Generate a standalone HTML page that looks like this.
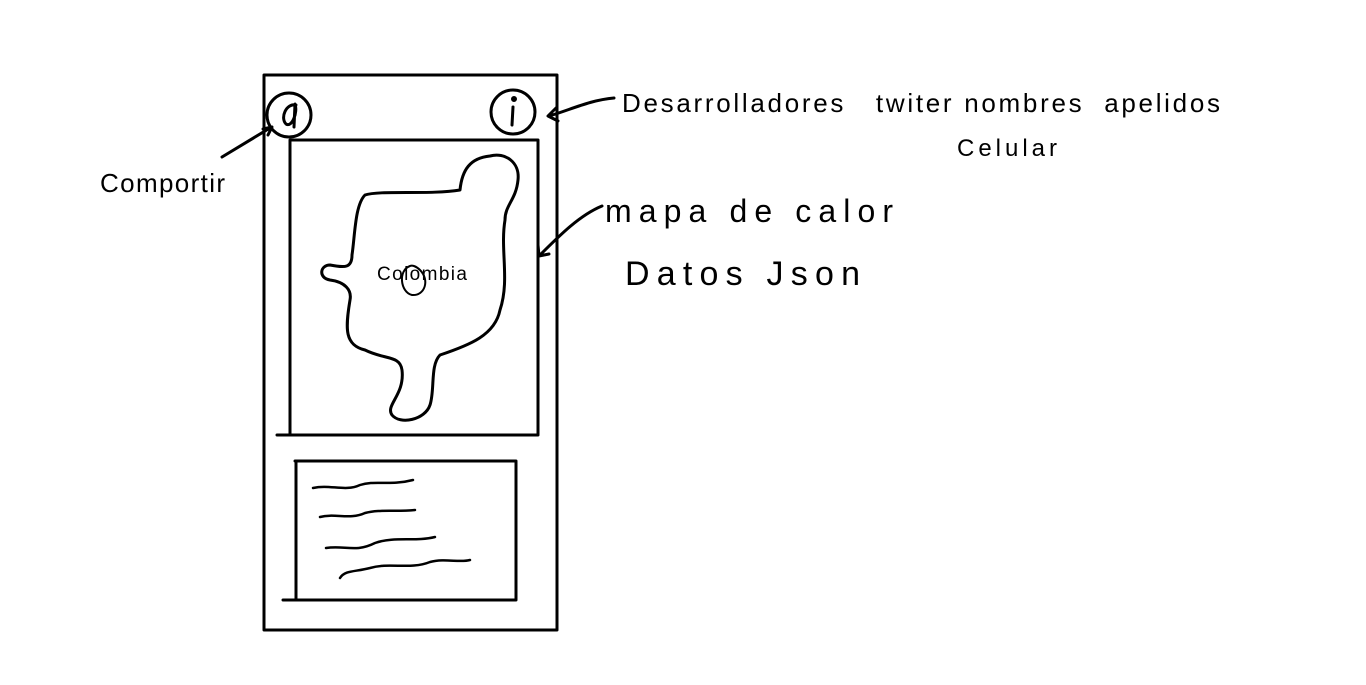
<!DOCTYPE html>
<html><head><meta charset="utf-8"><style>
html,body{margin:0;padding:0;background:#fff;width:1366px;height:685px;overflow:hidden}
svg{display:block}
text{font-family:"Liberation Sans",sans-serif;fill:#000}
</style></head><body>
<svg width="1366" height="685" viewBox="0 0 1366 685" fill="none" stroke="#000" stroke-width="3" stroke-linecap="round" stroke-linejoin="round">
<rect x="264" y="75" width="293" height="555"/>
<g>
<circle cx="289" cy="115" r="22"/>
<path d="M296,105 C286,103 280,118 286,124 C292,128 298,112 295,104 L294,127"/>
</g>
<g>
<circle cx="513" cy="112" r="22"/>
<path d="M513,107 L512,125"/><circle cx="514" cy="99" r="1.5" fill="#000"/>
</g>
<path d="M290,140 L538,140 L538,435 L277,435 M290,140 L290,435"/>
<path d="M365,195 C380,190 430,195 460,190 C462,170 470,158 490,156 C505,152 520,162 518,180 C516,200 505,205 505,220 C500,250 510,280 500,310 C495,335 470,345 440,355 C430,365 435,390 430,405 C425,420 400,425 392,415 C385,405 405,395 402,370 C400,355 385,360 365,350 C345,345 345,330 350,300 C352,290 345,282 330,280 C318,278 320,265 330,265 C345,268 352,268 352,255 C355,235 355,205 365,195 Z"/>
<path d="M410,266 C398,270 400,292 412,295 C425,296 430,280 420,270 C416,266 412,265 410,266 Z" stroke-width="2"/>
<text x="377" y="280" font-size="19" textLength="90" stroke="none">Colombia</text>
<path d="M295,461 L516,461 L516,600 L283,600 M296,462 L296,600"/>
<g stroke-width="2.5">
<path d="M313,488 C330,484 345,492 360,485 C375,480 390,486 413,480"/>
<path d="M320,517 C335,513 350,520 365,513 C380,509 395,512 415,510"/>
<path d="M326,548 C345,545 355,553 375,543 C395,536 415,542 435,537"/>
<path d="M340,578 C345,570 355,572 370,568 C390,562 410,570 430,562 C445,558 460,563 470,560"/>
</g>
<path d="M222,157 L270,128 M263,129 L272,127 L268,135"/>
<path d="M614,98 C590,100 570,110 549,116 M556,108 L548,116 L558,121"/>
<path d="M602,206 C580,215 560,235 540,255 M538,245 L539,256 L549,254"/>
<g stroke="none">
<text x="100" y="192" font-size="26" textLength="125">Comportir</text>
<text x="622" y="112" font-size="26" textLength="598">Desarrolladores &#160; twiter nombres &#160;apelidos</text>
<text x="957" y="156" font-size="24" textLength="100">Celular</text>
<text x="605" y="222" font-size="32" textLength="288">mapa de calor</text>
<text x="625" y="285" font-size="34" textLength="235">Datos Json</text>
</g>
</svg>
</body></html>
